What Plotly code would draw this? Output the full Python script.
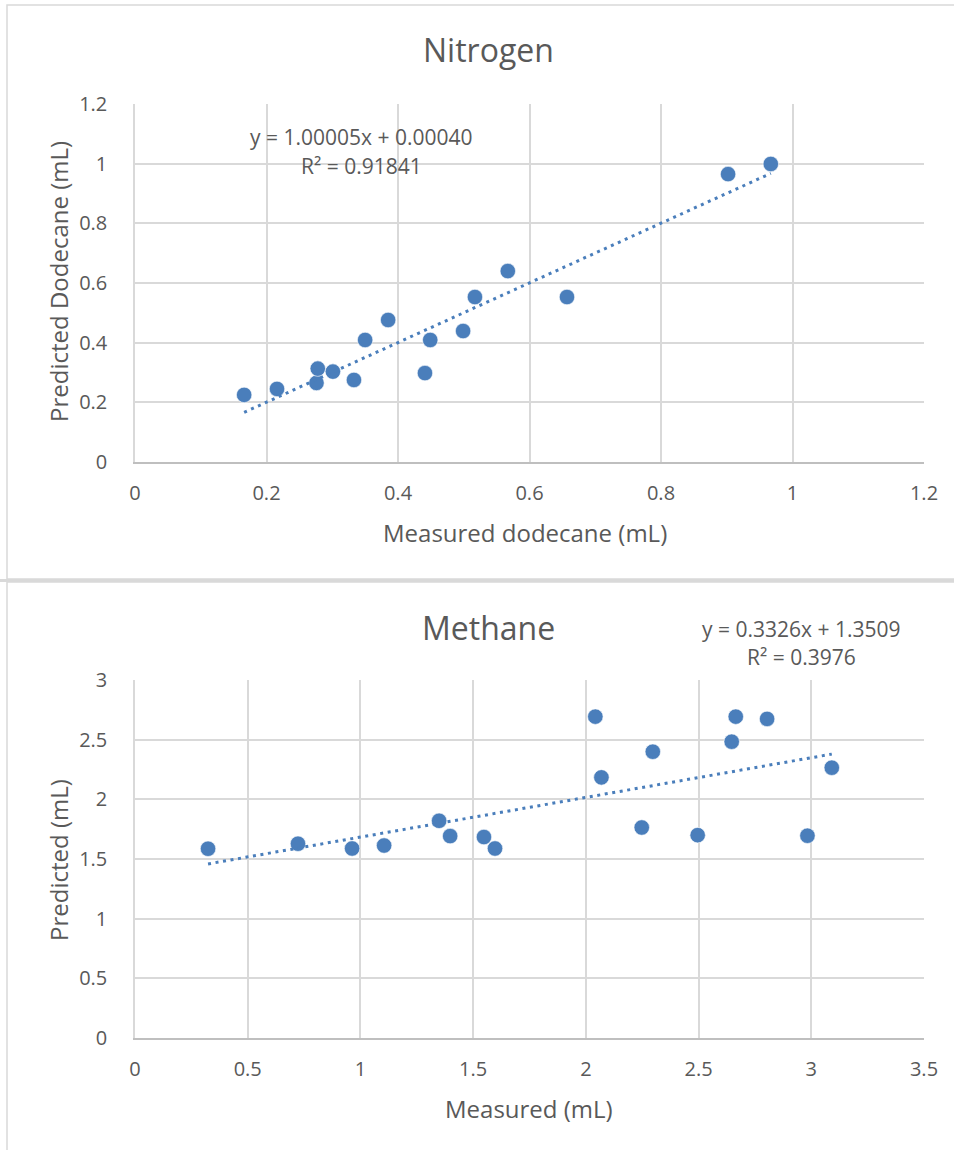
import plotly.graph_objects as go

W, H = 954, 1150

# ---- Nitrogen: measured vs predicted dodecane (mL)
n2_measured = [0.166, 0.216, 0.276, 0.278, 0.301, 0.333, 0.350, 0.385,
               0.441, 0.449, 0.499, 0.517, 0.567, 0.657, 0.902, 0.967]
n2_predicted = [0.225, 0.245, 0.265, 0.313, 0.303, 0.275, 0.409, 0.476,
                0.298, 0.409, 0.439, 0.553, 0.640, 0.553, 0.965, 0.999]
n2_slope, n2_intercept, n2_r2 = 1.00005, 0.00040, 0.91841
n2_ticks = [0, 0.2, 0.4, 0.6, 0.8, 1, 1.2]

# ---- Methane: measured vs predicted (mL)
ch4_measured = [0.324, 0.723, 0.963, 1.105, 1.349, 1.398, 1.548, 1.597, 2.042,
                2.069, 2.248, 2.297, 2.496, 2.647, 2.665, 2.804, 2.983, 3.091]
ch4_predicted = [1.586, 1.628, 1.588, 1.613, 1.820, 1.692, 1.684, 1.588, 2.693,
                 2.184, 1.764, 2.399, 1.700, 2.483, 2.693, 2.674, 1.695, 2.265]
ch4_slope, ch4_intercept, ch4_r2 = 0.3326, 1.3509, 0.3976
ch4_xticks = [0, 0.5, 1, 1.5, 2, 2.5, 3, 3.5]
ch4_yticks = [0, 0.5, 1, 1.5, 2, 2.5, 3]

FONT = "Open Sans"
TXT = "#595959"
GRID = "#d9d9d9"
BLUE = "#4a7ebb"


def px_x(p):
    return p / W


def px_y(p):
    return 1 - p / H


def trend(xs, m, b):
    x0, x1 = min(xs), max(xs)
    return [x0, x1], [m * x0 + b, m * x1 + b]


fig = go.Figure()

# scatter + dotted linear trendline, top panel
fig.add_trace(go.Scatter(x=n2_measured, y=n2_predicted, mode="markers",
                         marker=dict(color=BLUE, size=15.5, line=dict(color="white", width=0.6)),
                         xaxis="x", yaxis="y", showlegend=False))
tx, ty = trend(n2_measured, n2_slope, n2_intercept)
fig.add_trace(go.Scatter(x=tx, y=ty, mode="lines",
                         line=dict(color=BLUE, width=3, dash="3px,4.6px"),
                         xaxis="x", yaxis="y", showlegend=False))

# bottom panel
fig.add_trace(go.Scatter(x=ch4_measured, y=ch4_predicted, mode="markers",
                         marker=dict(color=BLUE, size=15.5, line=dict(color="white", width=0.6)),
                         xaxis="x2", yaxis="y2", showlegend=False))
tx, ty = trend(ch4_measured, ch4_slope, ch4_intercept)
fig.add_trace(go.Scatter(x=tx, y=ty, mode="lines",
                         line=dict(color=BLUE, width=3, dash="3px,4.6px"),
                         xaxis="x2", yaxis="y2", showlegend=False))

axis_common = dict(showgrid=True, gridcolor=GRID, gridwidth=1.5, zeroline=False,
                   tickfont=dict(family=FONT, size=20, color=TXT), ticks="",
                   fixedrange=True, automargin=False)

plot_l, plot_r = 135, 924

fig.update_layout(
    template="none",
    width=W, height=H,
    margin=dict(l=0, r=0, t=0, b=0, autoexpand=False),
    paper_bgcolor="white", plot_bgcolor="white",
    xaxis=dict(domain=[px_x(plot_l), px_x(plot_r)], range=[0, 1.2], anchor="y",
               tickvals=n2_ticks, showline=True, linecolor="#bfbfbf", linewidth=2,
               ticklabelstandoff=12, **axis_common),
    yaxis=dict(domain=[px_y(462), px_y(104)], range=[0, 1.2], anchor="x",
               tickvals=n2_ticks, showline=True, linecolor=GRID, linewidth=1.5,
               ticklabelstandoff=22, **axis_common),
    xaxis2=dict(domain=[px_x(plot_l), px_x(plot_r)], range=[0, 3.5], anchor="y2",
                tickvals=ch4_xticks, showline=True, linecolor="#bfbfbf", linewidth=2,
                ticklabelstandoff=12, **axis_common),
    yaxis2=dict(domain=[px_y(1038), px_y(680)], range=[0, 3], anchor="x2",
                tickvals=ch4_yticks, showline=True, linecolor=GRID, linewidth=1.5,
                ticklabelstandoff=22, **axis_common),
)


def label(text, x, y, size, angle=0):
    fig.add_annotation(text=text, x=px_x(x), y=px_y(y), xref="paper", yref="paper",
                       xanchor="center", yanchor="middle", showarrow=False, textangle=angle,
                       font=dict(family=FONT, size=size, color=TXT))


# titles and axis titles
label("Nitrogen", 488, 50, 32)
label("Measured dodecane (mL)", 525, 532, 24)
label("Predicted Dodecane (mL)", 58, 282, 24, -90)
label("Methane", 488, 627, 32)
label("Measured (mL)", 529, 1108, 24)
label("Predicted (mL)", 58, 860, 24, -90)

# trendline equations
label(f"y = {n2_slope:.5f}x + {n2_intercept:.5f}", 361, 137, 21)
label(f"R² = {n2_r2:.5f}", 361, 166, 21)
label(f"y = {ch4_slope:.4f}x + {ch4_intercept:.4f}", 801, 629, 21)
label(f"R² = {ch4_r2:.4f}", 801, 657, 21)

# chart area borders
border = dict(color=GRID, width=1.5)
fig.add_shape(type="rect", xref="paper", yref="paper",
              x0=px_x(7), x1=px_x(970), y0=px_y(579), y1=px_y(5), line=border)
fig.add_shape(type="rect", xref="paper", yref="paper",
              x0=px_x(7), x1=px_x(970), y0=px_y(1170), y1=px_y(582), line=border)
fig.add_shape(type="line", xref="paper", yref="paper",
              x0=px_x(0), x1=px_x(970), y0=px_y(580.5), y1=px_y(580.5),
              line=dict(color=GRID, width=3))

fig.write_html("out.html")
